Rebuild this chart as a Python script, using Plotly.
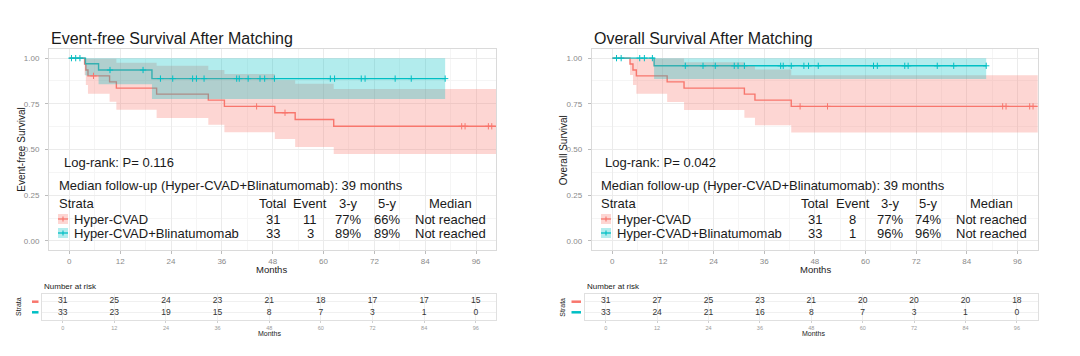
import numpy as np
import plotly.graph_objects as go

W, H = 1080, 356
RED = '#F8766D'
TEAL = '#00BFC4'
PINK_FILL = 'rgba(248,118,109,0.3)'
TEAL_FILL = 'rgba(0,191,196,0.3)'
FONT = 'Arial, Liberation Sans, sans-serif'

# ---------------- data ----------------
groups = ['Hyper-CVAD', 'Hyper-CVAD+Blinatumomab']

# Event-free survival
efs_red_t = [0, 3.6, 3.9, 4.4, 9.5, 11.1, 20.6, 32.8, 36.6, 48.5, 53.3, 62.4, 104]
efs_red_s = [1.0, 0.968, 0.935, 0.903, 0.870, 0.836, 0.803, 0.770, 0.736, 0.701, 0.664, 0.627, 0.627]
efs_red_lo = [1.0, 0.908, 0.853, 0.805, 0.761, 0.717, 0.673, 0.636, 0.594, 0.557, 0.513, 0.476, 0.476]
efs_red_hi = [1.0, 1.0, 1.0, 1.0, 0.997, 0.975, 0.958, 0.935, 0.913, 0.879, 0.860, 0.831, 0.831]
efs_red_cens = [5.7, 44.2, 50.9, 92.6, 93.4, 98.9, 99.7]

efs_teal_t = [0, 3.8, 6.9, 19.5, 88.7]
efs_teal_s = [1.0, 0.969, 0.935, 0.888, 0.888]
efs_teal_lo = [1.0, 0.905, 0.857, 0.776, 0.776]
efs_teal_hi = [1.0, 1.0, 1.0, 1.0, 1.0]
efs_teal_cens = [0.5, 1.5, 2.5, 9.6, 17.4, 21.5, 24.4, 29.1, 30.0, 31.8, 39.5, 40.1,
                 42.2, 45.0, 46.1, 48.4, 61.6, 62.6, 68.9, 69.8, 76.9, 80.7, 88.7]

# Overall survival
os_red_t = [0, 4.2, 4.9, 5.7, 13.0, 17.0, 31.3, 33.8, 42.4, 104]
os_red_s = [1.0, 0.968, 0.935, 0.903, 0.870, 0.836, 0.803, 0.770, 0.736, 0.736]
os_red_lo = [1.0, 0.908, 0.853, 0.805, 0.760, 0.716, 0.674, 0.633, 0.593, 0.593]
os_red_hi = [1.0, 1.0, 1.0, 1.0, 0.998, 0.978, 0.957, 0.938, 0.907, 0.907]
os_red_cens = [44.5, 51.0, 92.5, 93.3, 98.9, 99.7]

os_teal_t = [0, 9.9, 88.6]
os_teal_s = [1.0, 0.958, 0.958]
os_teal_lo = [1.0, 0.886, 0.886]
os_teal_hi = [1.0, 1.0, 1.0]
os_teal_cens = [1.0, 2.1, 6.5, 7.6, 9.5, 17.3, 21.5, 24.4, 28.9, 29.8, 31.3, 39.9, 40.5,
                42.4, 45.4, 46.5, 48.8, 61.9, 62.8, 69.3, 70.1, 77.0, 80.9, 88.6]

# Number at risk
risk_months = [0, 12, 24, 36, 48, 60, 72, 84, 96]
efs_risk_red = [31, 25, 24, 23, 21, 18, 17, 17, 15]
efs_risk_teal = [33, 23, 19, 15, 8, 7, 3, 1, 0]
os_risk_red = [31, 27, 25, 23, 21, 20, 20, 20, 18]
os_risk_teal = [33, 24, 21, 16, 8, 7, 3, 1, 0]

# Summary tables
efs_total = [31, 33]
efs_event = [11, 3]
efs_3y = ['77%', '89%']
efs_5y = ['66%', '89%']
os_total = [31, 33]
os_event = [8, 1]
os_3y = ['77%', '96%']
os_5y = ['74%', '96%']
medians = ['Not reached', 'Not reached']

y_ticks = [0, 0.25, 0.5, 0.75, 1.0]
y_ticktext = ['0.00', '0.25', '0.50', '0.75', '1.00']


# ---------------- helpers ----------------
def X(px):
    return px / W


def Y(py):
    return 1 - py / H


def stepxy(t, v):
    xs, ys = [], []
    for i in range(len(t)):
        if i > 0:
            xs.append(t[i]); ys.append(v[i - 1])
        xs.append(t[i]); ys.append(v[i])
    return xs, ys


def band(t, lo, hi):
    xl, yl = stepxy(t, lo)
    xh, yh = stepxy(t, hi)
    return xl + xh[::-1], yl + yh[::-1]


def surv_at(t, s, times):
    idx = np.searchsorted(np.array(t), np.array(times), side='right') - 1
    return [s[i] for i in idx]


fig = go.Figure()


def add_panel(xa, ya, red, teal):
    (rt, rs, rlo, rhi, rc) = red
    (tt, ts, tlo, thi, tc) = teal
    fig.add_trace(go.Scatter(x=rt, y=rs, mode='lines', line=dict(color=RED, width=1.4, shape='hv'),
                             xaxis=xa, yaxis=ya, hoverinfo='skip', showlegend=False))
    fig.add_trace(go.Scatter(x=tt, y=ts, mode='lines', line=dict(color=TEAL, width=1.4, shape='hv'),
                             xaxis=xa, yaxis=ya, hoverinfo='skip', showlegend=False))
    bx, by = band(rt, rlo, rhi)
    fig.add_trace(go.Scatter(x=bx, y=by, mode='lines', fill='toself', fillcolor=PINK_FILL,
                             line=dict(width=0), xaxis=xa, yaxis=ya, hoverinfo='skip', showlegend=False))
    bx, by = band(tt, tlo, thi)
    fig.add_trace(go.Scatter(x=bx, y=by, mode='lines', fill='toself', fillcolor=TEAL_FILL,
                             line=dict(width=0), xaxis=xa, yaxis=ya, hoverinfo='skip', showlegend=False))
    for t, s, c, col in [(rt, rs, rc, RED), (tt, ts, tc, TEAL)]:
        fig.add_trace(go.Scatter(x=c, y=surv_at(t, s, c), mode='markers',
                                 marker=dict(symbol='cross-thin', size=4.5, color=col,
                                             line=dict(color=col, width=1)),
                                 xaxis=xa, yaxis=ya, hoverinfo='skip', showlegend=False))


add_panel('x', 'y',
          (efs_red_t, efs_red_s, efs_red_lo, efs_red_hi, efs_red_cens),
          (efs_teal_t, efs_teal_s, efs_teal_lo, efs_teal_hi, efs_teal_cens))
add_panel('x2', 'y2',
          (os_red_t, os_red_s, os_red_lo, os_red_hi, os_red_cens),
          (os_teal_t, os_teal_s, os_teal_lo, os_teal_hi, os_teal_cens))

for xa, ya, rr, rtl in [('x3', 'y3', efs_risk_red, efs_risk_teal), ('x4', 'y4', os_risk_red, os_risk_teal)]:
    fig.add_trace(go.Scatter(x=risk_months, y=[2] * len(risk_months), mode='text',
                             text=[str(v) for v in rr], textfont=dict(size=8.5, color='#333', family=FONT),
                             xaxis=xa, yaxis=ya, hoverinfo='skip', showlegend=False))
    fig.add_trace(go.Scatter(x=risk_months, y=[1] * len(risk_months), mode='text',
                             text=[str(v) for v in rtl], textfont=dict(size=8.5, color='#333', family=FONT),
                             xaxis=xa, yaxis=ya, hoverinfo='skip', showlegend=False))

# ---------------- axes ----------------
minor_x = [6, 18, 30, 42, 54, 66, 78, 90]
minor_y = [0.125, 0.375, 0.625, 0.875]


def main_x(rng, dom, anchor):
    return dict(domain=dom, range=rng, anchor=anchor, tickvals=risk_months,
                ticktext=[str(m) for m in risk_months],
                showgrid=True, gridcolor='#EBEBEB', gridwidth=0.7,
                minor=dict(tickvals=minor_x, showgrid=True, gridcolor='#F5F5F5', gridwidth=0.5),
                zeroline=False, showline=True, mirror=True, linecolor='#DADADA', linewidth=1,
                ticks='outside', ticklen=3, tickcolor='#BDBDBD',
                tickfont=dict(size=8, color='#8a8a8a', family=FONT))


def main_y(dom, anchor):
    return dict(domain=dom, range=[-0.05, 1.05], anchor=anchor, tickvals=y_ticks, ticktext=y_ticktext,
                showgrid=True, gridcolor='#EBEBEB', gridwidth=0.7,
                minor=dict(tickvals=minor_y, showgrid=True, gridcolor='#F5F5F5', gridwidth=0.5),
                zeroline=False, showline=True, mirror=True, linecolor='#DADADA', linewidth=1,
                ticks='outside', ticklen=3, tickcolor='#BDBDBD', ticklabelstandoff=4,
                tickfont=dict(size=8, color='#8a8a8a', family=FONT))


def tab_x(rng, dom, anchor):
    return dict(domain=dom, range=rng, anchor=anchor, tickvals=risk_months,
                ticktext=[str(m) for m in risk_months],
                showgrid=True, gridcolor='#F0F0F0', gridwidth=0.6, zeroline=False,
                showline=True, mirror=True, linecolor='#E0E0E0', linewidth=1,
                ticks='outside', ticklen=2, tickcolor='#D0D0D0',
                tickfont=dict(size=5.5, color='#9a9a9a', family=FONT))


def tab_y(dom, anchor):
    return dict(domain=dom, range=[0.4, 2.6], anchor=anchor, tickvals=[1, 2], showticklabels=False,
                showgrid=True, gridcolor='#F0F0F0', gridwidth=0.6, zeroline=False,
                showline=True, mirror=True, linecolor='#E0E0E0', linewidth=1, ticks='')


main_ydom = [Y(250), Y(49)]
tab_ydom = [Y(320), Y(294)]

layout = dict(
    width=W, height=H, margin=dict(l=0, r=0, t=0, b=0),
    paper_bgcolor='white', plot_bgcolor='white', showlegend=False,
    font=dict(family=FONT, color='#1a1a1a'),
    xaxis=main_x([-4.8, 100.7], [X(49), X(496)], 'y'),
    yaxis=main_y(main_ydom, 'x'),
    xaxis2=main_x([-4.88, 100.8], [X(591.7), X(1037.7)], 'y2'),
    yaxis2=main_y(main_ydom, 'x2'),
    xaxis3=tab_x([-4.8, 100.7], [X(42), X(496)], 'y3'),
    yaxis3=tab_y(tab_ydom, 'x3'),
    xaxis4=tab_x([-4.84, 101.0], [X(585), X(1038.3)], 'y4'),
    yaxis4=tab_y(tab_ydom, 'x4'),
)
fig.update_layout(**layout)

ann = []
shapes = []


def text(px, py, s, size, anchor='left', color='#1a1a1a', angle=0):
    ann.append(dict(x=X(px), y=Y(py), xref='paper', yref='paper', text=s, showarrow=False,
                    xanchor=anchor, yanchor='middle', textangle=angle,
                    font=dict(size=size, color=color, family=FONT)))


panels = [
    dict(title='Event-free Survival After Matching', ytitle='Event-free Survival',
         p='Log-rank: P= 0.116', total=efs_total, event=efs_event, y3=efs_3y, y5=efs_5y,
         tx=49, lrx=62, mfx=57, swx=58, lgx=72, cols=[273, 310, 348, 387, 450], ytx=20.7,
         mx=271.7, nrx=42, strx=18, dash=(32, 38.5)),
    dict(title='Overall Survival After Matching', ytitle='Overall Survival',
         p='Log-rank: P= 0.042', total=os_total, event=os_event, y3=os_3y, y5=os_5y,
         tx=591.7, lrx=603.3, mfx=599.3, swx=601, lgx=615, cols=[815, 852.7, 890, 928.3, 991.7],
         ytx=563.3, mx=815, nrx=585, strx=561.7, dash=(571.5, 581)),
]

for pn in panels:
    text(pn['tx'], 38, pn['title'], 16)
    text(pn['ytx'], 150, pn['ytitle'], 10, anchor='center', angle=-90)
    text(pn['mx'], 269, 'Months', 9.5, anchor='center')
    text(pn['lrx'], 163, pn['p'], 13)
    text(pn['mfx'], 185, 'Median follow-up (Hyper-CVAD+Blinatumomab): 39 months', 13)
    text(pn['mfx'], 203, 'Strata', 13)
    c = pn['cols']
    for cx, h in zip(c, ['Total', 'Event', '3-y', '5-y', 'Median']):
        text(cx, 203, h, 13, anchor='center')
    for i, (ry, fillc, linec) in enumerate([(219, PINK_FILL, RED), (233, TEAL_FILL, TEAL)]):
        sx = pn['swx']
        shapes.append(dict(type='rect', xref='paper', yref='paper', x0=X(sx), x1=X(sx + 10),
                           y0=Y(ry + 5), y1=Y(ry - 5), fillcolor=fillc, line=dict(width=0)))
        shapes.append(dict(type='line', xref='paper', yref='paper', x0=X(sx), x1=X(sx + 10),
                           y0=Y(ry), y1=Y(ry), line=dict(color=linec, width=1.3)))
        shapes.append(dict(type='line', xref='paper', yref='paper', x0=X(sx + 5), x1=X(sx + 5),
                           y0=Y(ry - 2.5), y1=Y(ry + 2.5), line=dict(color=linec, width=1.1)))
        text(pn['lgx'], ry, groups[i], 13)
        vals = [str(pn['total'][i]), str(pn['event'][i]), pn['y3'][i], pn['y5'][i], medians[i]]
        for cx, v in zip(c, vals):
            text(cx, ry, v, 13, anchor='center')
    text(pn['nrx'], 286, 'Number at risk', 8)
    text(pn['strx'], 307, 'Strata', 7, anchor='center', angle=-90)
    text(pn['mx'] - 2, 333, 'Months', 7, anchor='center')
    d0, d1 = pn['dash']
    for ry, col in [(301.7, RED), (312.3, TEAL)]:
        shapes.append(dict(type='line', xref='paper', yref='paper', x0=X(d0), x1=X(d1),
                           y0=Y(ry), y1=Y(ry), line=dict(color=col, width=2.5)))

fig.update_layout(annotations=ann, shapes=shapes)
fig.write_html('out.html', config={'displayModeBar': False},
               post_script="document.body.style.margin='0px';")
